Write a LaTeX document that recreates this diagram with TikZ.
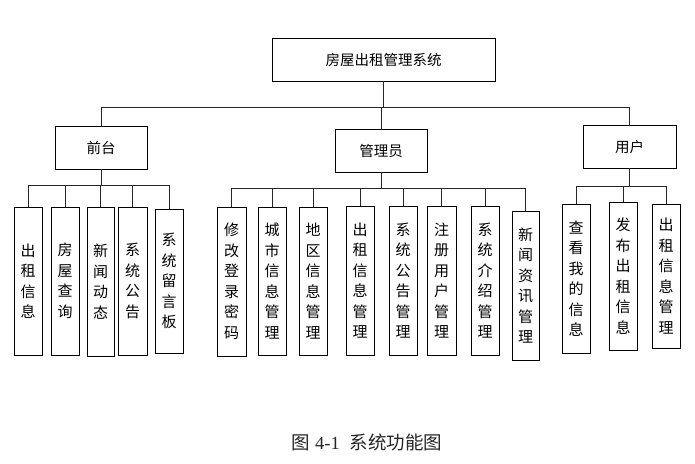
\documentclass[tikz,border=0pt]{standalone}
\usepackage{fontspec}
\setmainfont{Liberation Serif}
\newfontfamily\cjk{Noto Sans CJK SC}
\begin{document}
\begin{tikzpicture}[x=1pt,y=-1pt,
  box/.style={draw=black,line width=0.9pt,fill=white,inner sep=0pt,align=center,
    font=\cjk\fontsize{14.5}{20.5}\selectfont},
  vbox/.style={box,font=\cjk\fontsize{15}{20.5}\selectfont,minimum width=28pt,minimum height=148pt},
  wire/.style={draw=black!85,line width=0.9pt}]
\useasboundingbox (0,0) rectangle (695,463);
\fill[white] (0,0) rectangle (695,463);
% top level
\node[box,minimum width=223pt,minimum height=43pt] (top) at (383.5,59.5) {房屋出租管理系统};
\node[box,minimum width=92pt,minimum height=43pt] (qt) at (101,147.5) {前台};
\node[box,minimum width=92pt,minimum height=43pt] (gly) at (381,150.5) {管理员};
\node[box,minimum width=93pt,minimum height=43pt] (yh) at (629.5,146.5) {用户};
\coordinate (b0) at (0,107);
\foreach \c in {qt,gly,yh}
  \draw[wire] (top.south) -- (top.south |- b0) -| (\c.north);
% 前台 children
\node[vbox] (a1) at (28,281) {出\\租\\信\\息};
\node[vbox] (a2) at (65,281) {房\\屋\\查\\询};
\node[vbox,minimum width=27pt,minimum height=149pt] (a3) at (100.5,281.5) {新\\闻\\动\\态};
\node[vbox,minimum width=29pt] (a4) at (132.5,281) {系\\统\\公\\告};
\node[vbox,minimum height=144pt] (a5) at (169,281) {系\\统\\留\\言\\板};
\coordinate (b1) at (0,185);
\foreach \c in {a1,a2,a3,a4,a5}
  \draw[wire] (qt.south) -- (qt.south |- b1) -| (\c.north);
% 管理员 children
\node[vbox,minimum width=29pt,minimum height=149pt] (m1) at (231.5,281.5) {修\\改\\登\\录\\密\\码};
\node[vbox] (m2) at (272,281) {城\\市\\信\\息\\管\\理};
\node[vbox] (m3) at (313,281) {地\\区\\信\\息\\管\\理};
\node[vbox,minimum height=149pt] (m4) at (360,280.5) {出\\租\\信\\息\\管\\理};
\node[vbox,minimum height=149pt] (m5) at (403,280.5) {系\\统\\公\\告\\管\\理};
\node[vbox,minimum width=29pt,minimum height=149pt] (m6) at (441.5,280.5) {注\\册\\用\\户\\管\\理};
\node[vbox,minimum height=149pt] (m7) at (485,280.5) {系\\统\\介\\绍\\管\\理};
\node[vbox,minimum width=27pt,minimum height=149pt] (m8) at (525.5,285.5) {新\\闻\\资\\讯\\管\\理};
\coordinate (b2) at (0,188);
\foreach \c in {m1,m2,m3,m4,m5,m6,m7,m8}
  \draw[wire] (gly.south) -- (gly.south |- b2) -| (\c.north);
% 用户 children
\node[vbox,minimum height=149pt] (u1) at (576,278.5) {查\\看\\我\\的\\信\\息};
\node[vbox] (u2) at (623,276) {发\\布\\出\\租\\信\\息};
\node[vbox,minimum height=144pt] (u3) at (666,276) {出\\租\\信\\息\\管\\理};
\coordinate (b3) at (0,186);
\foreach \c in {u1,u2,u3}
  \draw[wire] (yh.south) -- (yh.south |- b3) -| (\c.north);
% caption
\node[font=\fontsize{18.5}{20}\selectfont,text=black!85] (cap) at (367,442) {{\cjk 图}\hspace{5pt}4-1\hspace{10pt}{\cjk 系统功能图}};
\end{tikzpicture}
\end{document}
